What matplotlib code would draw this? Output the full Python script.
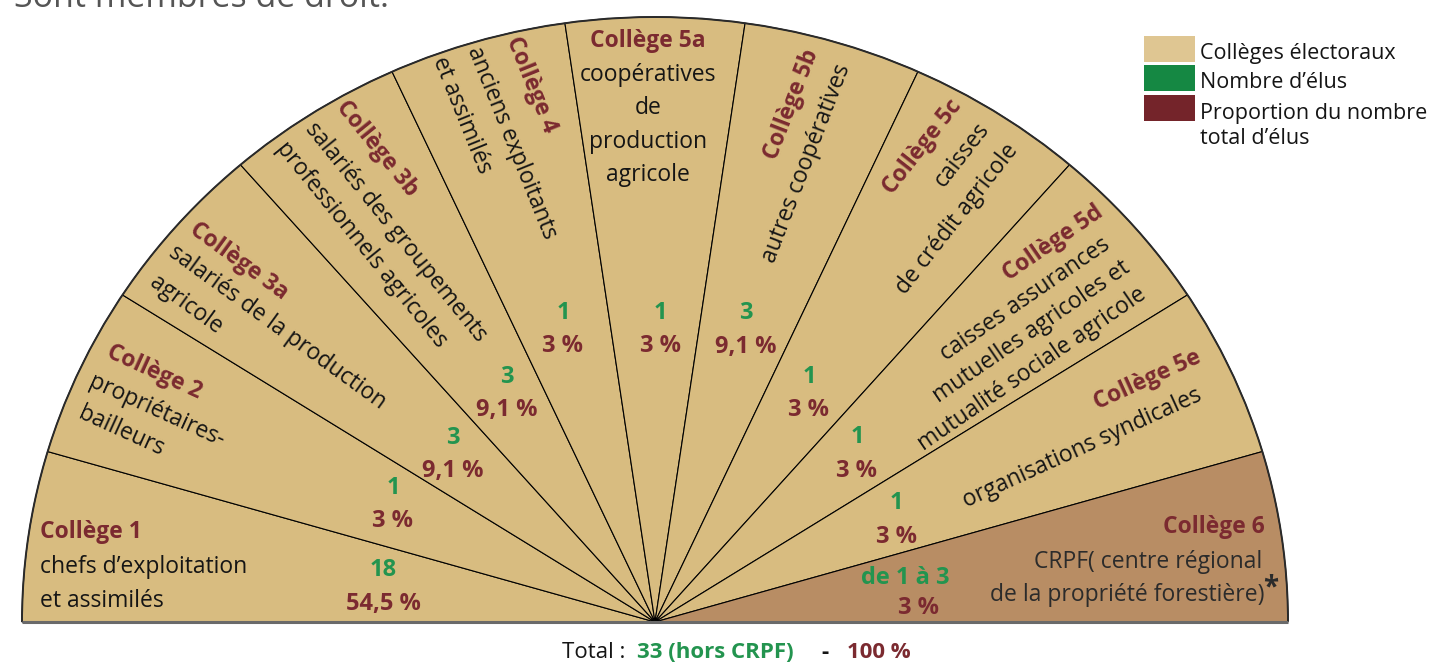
import matplotlib
matplotlib.use("Agg")
import matplotlib.pyplot as plt
from matplotlib.patches import Wedge, Arc, Rectangle
from matplotlib.transforms import Affine2D

plt.rcParams['font.family'] = ['Open Sans', 'DejaVu Sans']

# --- data ---
colleges = ["Collège 1", "Collège 2", "Collège 3a", "Collège 3b", "Collège 4",
            "Collège 5a", "Collège 5b", "Collège 5c", "Collège 5d", "Collège 5e",
            "Collège 6"]
descriptions = [
    ["chefs d’exploitation", "et assimilés"],
    ["propriétaires-", "bailleurs"],
    ["salariés de la production", "agricole"],
    ["salariés des groupements", "professionnels agricoles"],
    ["anciens exploitants", "et assimilés"],
    ["coopératives", "de", "production", "agricole"],
    ["autres coopératives"],
    ["caisses", "de crédit agricole"],
    ["caisses assurances", "mutuelles agricoles et", "mutualité sociale agricole"],
    ["organisations syndicales"],
    ["CRPF( centre régional", "de la propriété forestière)"],
]
elus = ["18", "1", "3", "3", "1", "1", "3", "1", "1", "1", "de 1 à 3"]
proportions = ["54,5 %", "3 %", "9,1 %", "9,1 %", "3 %", "3 %", "9,1 %",
               "3 %", "3 %", "3 %", "3 %"]
hors_total = [False] * 10 + [True]
legend_labels = ["Collèges électoraux", "Nombre d’élus",
                 "Proportion du nombre\ntotal d’élus"]

TAN = '#D8BC80'
BROWN = '#B88D64'
GREEN = '#23944F'
MAROON = '#7B2A30'
DARK = '#151515'

W, H = 1431, 665
CX, CY, RX, RY = 655, 622, 633, 605

fig = plt.figure(figsize=(W / 100, H / 100), dpi=100)
ax = fig.add_axes([0, 0, 1, 1])
ax.set_xlim(-CX / RX, (W - CX) / RX)
ax.set_ylim(-(H - CY) / RY, CY / RY)
ax.axis('off')

# pixel-style coordinates for annotations (origin top-left)
PIX = Affine2D().scale(1 / W, -1 / H).translate(0, 1) + fig.transFigure

# wedges: equal angular share for each college, left to right
n = len(colleges)
step = 180.0 / n
for i in range(n):
    t2 = 180 - i * step
    t1 = t2 - step
    ax.add_patch(Wedge((0, 0), 1, t1, t2,
                       facecolor=BROWN if hors_total[i] else TAN,
                       edgecolor='black', linewidth=0.8))
ax.add_patch(Arc((0, 0), 2, 2, theta1=0, theta2=180, color='#2a2a2a', lw=1.4))
ax.plot([-1, 1], [0, 0], color='#6a6a6a', lw=2.2, solid_capstyle='butt')

# college titles and descriptions: (x, y, rotation) for title then each line
layout = [
    [(40, 532, 0), (40, 567, 0), (40, 601, 0)],
    [(154, 372, -24.5), (157, 411, -24.5), (121, 432, -24.5)],
    [(239, 261, -36), (277, 327, -36), (186, 305, -36)],
    [(377, 149, -51), (396, 232, -51), (361, 245, -51)],
    [(531, 85, -68), (512, 143, -68), (462, 115, -68)],
    [(648, 41, 0), (648, 75, 0), (648, 108, 0), (648, 142, 0), (648, 175, 0)],
    [(792, 104, 69), (807, 163, 69)],
    [(922, 147, 52), (962, 155, 52), (957, 219, 52)],
    [(1053, 243, 34.5), (1025, 299, 34.5), (1032, 332, 34.5), (1032, 369, 34.5)],
    [(1147, 380, 24.5), (1082, 448, 24.5)],
    [(1265, 527, 0), (1262, 562, 0), (1265, 595, 0)],
]
for i in range(n):
    pos = layout[i]
    ha = 'left' if i == 0 else ('right' if i == n - 1 else 'center')
    x, y, r = pos[0]
    ax.text(x, y, colleges[i], transform=PIX, ha=ha, va='center',
            rotation=r, rotation_mode='anchor', fontsize=16.5,
            fontweight='bold', color=MAROON)
    col = '#2b2b2b' if hors_total[i] else DARK
    for line, (x, y, r) in zip(descriptions[i], pos[1:]):
        ax.text(x, y, line, transform=PIX, ha=ha, va='center',
                rotation=r, rotation_mode='anchor', fontsize=16.5, color=col)
ax.text(1263, 588, "*", transform=PIX, ha='left', va='center', fontsize=20,
        fontweight='bold', color='#2b2b2b')

# numbers per wedge
count_pos = [(383, 570), (393, 488), (453, 438), (507, 377), (563, 313),
             (660, 313), (746, 313), (809, 377), (857, 437), (896, 503),
             (905, 578)]
pct_pos = [(383, 604), (393, 521), (453, 471), (507, 410), (563, 346),
           (660, 346), (746, 347), (809, 410), (857, 471), (896, 537),
           (918, 608)]
for i in range(n):
    ax.text(*count_pos[i], elus[i], transform=PIX, ha='center', va='center',
            fontsize=17, fontweight='bold', color=GREEN)
    ax.text(*pct_pos[i], proportions[i], transform=PIX, ha='center',
            va='center', fontsize=17, fontweight='bold', color=MAROON)

# legend
sw_colors = ['#DFC692', '#158843', '#74242A']
sw_y = [36, 65, 95]
for c, y in zip(sw_colors, sw_y):
    ax.add_patch(Rectangle((1144, y), 51, 26, transform=PIX,
                           facecolor=c, edgecolor='none'))
ax.text(1200, 53, legend_labels[0], transform=PIX, ha='left', va='center',
        fontsize=15.5, color=DARK)
ax.text(1200, 83, legend_labels[1], transform=PIX, ha='left', va='center',
        fontsize=15.5, color=DARK)
ax.text(1200, 126, legend_labels[2], transform=PIX, ha='left', va='center',
        fontsize=15.5, color=DARK, linespacing=1.25)

# total line
ax.text(562, 652, "Total :", transform=PIX, ha='left', va='center',
        fontsize=16, color=DARK)
ax.text(637, 652, "33 (hors CRPF)", transform=PIX, ha='left', va='center',
        fontsize=16, fontweight='bold', color=GREEN)
ax.text(825, 652, "-", transform=PIX, ha='center', va='center',
        fontsize=16, fontweight='bold', color=DARK)
ax.text(847, 652, "100 %", transform=PIX, ha='left', va='center',
        fontsize=16, fontweight='bold', color=MAROON)

# text cut off at the top of the page, as in the source
ax.text(14, 7, "Sont membres de droit.", transform=PIX, ha='left',
        va='baseline', fontsize=24.5, color='#555555')

fig.savefig('out.png', dpi=100)
